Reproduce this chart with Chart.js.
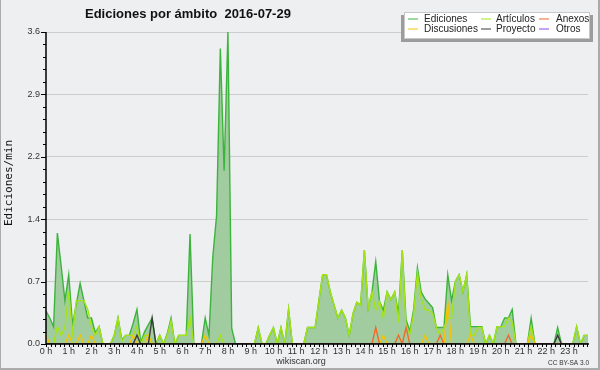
<!DOCTYPE html>
<html><head><meta charset="utf-8">
<script src="https://cdn.jsdelivr.net/npm/chart.js@4/dist/chart.umd.min.js"></script>
<style>html,body{margin:0;padding:0;background:#eeeff0;}canvas{display:block}</style>
</head><body>
<canvas id="c" width="600" height="370"></canvas>
<script>
// one value per 10-minute slot, 00:00 .. 23:50
const slotMinutes = 10;
const ediciones = [
 0.38,0.30,0.20,1.28,0.90,0.50,
 0.80,0.22,0.46,0.70,0.50,0.30,
 0.30,0.13,0.20,0,0,0,
 0.10,0.30,0.05,0.10,0.10,0.24,
 0.40,0.02,0.14,0.22,0.30,0,
 0.10,0,0.12,0.30,0,0.10,
 0.10,0.10,1.27,0,0,0,
 0.30,0.10,1.00,1.48,3.41,2.00,
 3.60,0.18,0,0,0,0,
 0,0,0.19,0,0,0.10,
 0.19,0,0.19,0,0.40,0,
 0,0,0,0.19,0.19,0.19,
 0.50,0.80,0.80,0.60,0.45,0.30,
 0.39,0.30,0.10,0.35,0.48,0.45,
 1.08,0.41,0.60,0.95,0.49,0.39,
 0.60,0.51,0.60,0.35,1.08,0.28,
 0.15,0.40,0.88,0.60,0.52,0.47,
 0.42,0.19,0.19,0.19,0.80,0.50,
 0.72,0.80,0.60,0.80,0.20,0.20,
 0.20,0.20,0,0.10,0,0.20,
 0.20,0.30,0.30,0.40,0,0,
 0,0,0.30,0,0,0,
 0,0,0,0.19,0,0,
 0,0,0.20,0,0.10,0.10];
const articulos = [
 0,0,0,0.20,0.10,0.19,
 0.60,0.12,0.50,0.50,0.50,0.40,
 0.20,0.10,0.20,0,0,0,
 0.10,0.30,0.03,0.10,0.10,0.10,
 0.20,0,0.10,0.10,0,0,
 0.10,0,0.10,0.27,0,0.10,
 0.10,0.10,0.30,0,0,0,
 0,0,0,0,0.10,0,
 0,0,0,0,0,0,
 0,0,0.19,0,0,0.10,
 0.19,0,0.19,0,0.40,0,
 0,0,0,0.19,0.19,0.19,
 0.50,0.80,0.80,0.60,0.45,0.30,
 0.39,0.30,0.10,0.35,0.48,0.45,
 1.08,0.41,0.60,0.39,0.49,0.30,
 0.60,0.51,0.60,0.25,1.08,0.18,
 0.12,0.35,0.82,0.52,0.40,0.39,
 0.35,0.19,0.10,0.19,0.30,0.30,
 0.72,0.80,0.60,0.80,0.10,0.10,
 0.19,0.19,0,0.10,0,0.20,
 0.20,0.20,0.30,0.25,0,0,
 0,0,0.20,0,0,0,
 0,0,0,0,0,0,
 0,0,0.20,0,0.10,0.10];
const anexos = [
 0,0,0,0,0,0, 0,0,0,0,0,0, 0,0,0,0,0,0, 0,0,0,0,0,0,
 0,0,0,0,0,0, 0,0,0,0,0,0, 0,0,0,0,0,0, 0,0,0,0,0,0,
 0,0,0,0,0,0, 0,0,0,0,0,0, 0,0,0,0,0,0, 0,0,0,0,0,0,
 0,0,0,0,0,0, 0,0,0,0,0,0, 0,0,0,0.19,0,0, 0,0,0,0.10,0,0.19,
 0,0,0,0,0,0, 0,0,0.10,0,0,0, 0,0,0,0,0,0, 0,0,0,0,0,0,
 0,0,0.10,0,0,0, 0,0,0,0,0,0, 0,0,0,0,0,0, 0,0,0,0,0,0];
const discusiones = [
 0.10,0,0,0,0,0, 0.10,0,0,0.10,0,0, 0.10,0,0,0,0,0, 0,0,0,0,0,0.10,
 0,0,0,0.10,0,0, 0,0,0,0,0,0, 0,0,0,0,0,0, 0.10,0,0,0,0,0,
 0,0,0,0,0,0, 0,0,0,0,0,0, 0,0,0,0,0,0, 0,0,0,0,0,0,
 0,0,0,0,0,0, 0,0,0,0,0,0, 0,0,0,0,0,0.10, 0,0,0,0,0,0,
 0,0,0,0,0.10,0, 0,0,0,0,0.49,0, 0,0,0,0,0.10,0, 0,0,0,0,0,0,
 0,0,0,0,0,0, 0,0,0.10,0,0,0, 0,0,0,0,0,0, 0,0,0,0,0,0];
const proyecto = [
 0,0,0,0,0,0, 0,0,0,0,0,0, 0,0,0,0,0,0, 0,0,0,0,0,0,
 0.10,0,0,0,0.30,0, 0,0,0,0,0,0, 0,0,0,0,0,0, 0,0,0,0,0,0,
 0,0,0,0,0,0, 0,0,0,0,0,0, 0,0,0,0,0,0, 0,0,0,0,0,0,
 0,0,0,0,0,0, 0,0,0,0,0,0, 0,0,0,0,0,0, 0,0,0,0,0,0,
 0,0,0,0,0,0, 0,0,0,0,0,0, 0,0,0,0,0,0, 0,0,0,0,0,0,
 0,0,0,0,0,0, 0,0,0,0,0,0, 0,0,0,0.10,0,0, 0,0,0,0,0,0];
const otros = [];

const seriesNames = ['Ediciones','Artículos','Anexos','Discusiones','Proyecto','Otros'];
const yTickValues = [0, 0.72, 1.44, 2.16, 2.88, 3.6];
const yTickLabels = ['0.0','0.7','1.4','2.2','2.9','3.6'];
const xTickHours = [0,1,2,3,4,5,6,7,8,9,10,11,12,13,14,15,16,17,18,19,20,21,22,23];
const xTickLabels = ['0 h','1 h','2 h','3 h','4 h','5 h','6 h','7 h','8 h','9 h','10 h','11 h','12 h','13 h','14 h','15 h','16 h','17 h','18 h','19 h','20 h','21 h','22 h','23 h'];
const titleText = 'Ediciones por ámbito  2016-07-29';
const yTitle = 'Ediciones/min';

const times = ediciones.map((_, i) => i * slotMinutes / 60);
const pts = arr => arr.map((v, i) => ({x: times[i], y: v}));

const colors = {
  'Ediciones': '#3cb43c', 'Artículos': '#a4e414', 'Anexos': '#f06a28',
  'Discusiones': '#f5c400', 'Proyecto': '#3a3a3a', 'Otros': '#8844ee'
};
const seriesData = [ediciones, articulos, anexos, discusiones, proyecto, otros];
const drawOrder = [10, 8, 4, 5, 3, 2];

const datasets = seriesNames.map((n, i) => ({
  label: n,
  data: pts(seriesData[i]),
  borderColor: colors[n],
  borderWidth: 1.4,
  backgroundColor: i === 0 ? '#a0cca0' : 'transparent',
  fill: i === 0 ? 'origin' : false,
  pointRadius: 0,
  tension: 0,
  order: drawOrder[i]
}));

const decor = {
  id: 'decor',
  beforeDraw(chart) {
    const c = chart.ctx;
    c.save(); c.fillStyle = '#eeeff0'; c.fillRect(0, 0, chart.width, chart.height); c.restore();
  },
  afterDatasetsDraw(chart) {
    const c = chart.ctx, a = chart.chartArea, xs = chart.scales.x, ys = chart.scales.y;
    c.save();
    c.strokeStyle = '#000'; c.lineWidth = 1;
    // y ticks: major + 4 minor between
    const yMax = yTickValues[yTickValues.length - 1];
    const yMinor = yTickValues[1] / 5;
    for (let i = 0; i * yMinor <= yMax + 1e-9; i++) {
      const py = Math.round(ys.getPixelForValue(i * yMinor)) + 0.5;
      const len = (i % 5 === 0) ? 5 : 3;
      c.beginPath(); c.moveTo(a.left - len, py); c.lineTo(a.left, py); c.stroke();
    }
    // x ticks every 12 min
    for (let h = 0; h <= xs.max + 1e-9; h += 0.2) {
      const px = Math.round(xs.getPixelForValue(h)) + 0.5;
      c.beginPath(); c.moveTo(px, a.bottom); c.lineTo(px, a.bottom + 3); c.stroke();
    }
    // axis lines
    c.lineWidth = 1.5;
    c.beginPath(); c.moveTo(a.left, a.top); c.lineTo(a.left, a.bottom); c.lineTo(a.right + 1, a.bottom); c.stroke();
    c.restore();
  },
  afterDraw(chart) {
    const c = chart.ctx, a = chart.chartArea;
    c.save();
    // title
    c.fillStyle = '#111'; c.font = 'bold 13px "Liberation Sans", Arial, sans-serif';
    c.textBaseline = 'middle'; c.textAlign = 'left';
    c.fillText(titleText, 85, 14.5);
    // y title
    c.save(); c.translate(9, 183); c.rotate(-Math.PI / 2);
    c.font = '11px "DejaVu Sans Mono", monospace'; c.textAlign = 'center'; c.fillStyle = '#111';
    c.fillText(yTitle, 0, 0); c.restore();
    // footer texts
    c.font = '9px "Liberation Sans", Arial, sans-serif'; c.fillStyle = '#333'; c.textAlign = 'center';
    c.fillText('wikiscan.org', 301, 362);
    c.font = '6.5px "Liberation Sans", Arial, sans-serif'; c.textAlign = 'right';
    c.fillText('CC BY-SA 3.0', 589, 363);
    // legend
    c.fillStyle = '#9c9c9c'; c.fillRect(401, 15, 192, 27);
    c.fillStyle = '#ffffff'; c.fillRect(404, 12, 186, 27);
    c.strokeStyle = '#c8c8c8'; c.lineWidth = 1; c.strokeRect(404.5, 12.5, 185, 26);
    const cols = [[408, 424], [481, 496], [539, 556]];
    const rows = [19, 29];
    c.font = '10px "Liberation Sans", Arial, sans-serif'; c.textAlign = 'left'; c.textBaseline = 'middle';
    chart.data.datasets.forEach((ds, i) => {
      const col = cols[i % 3], ry = rows[Math.floor(i / 3)];
      c.strokeStyle = ds.borderColor; c.lineWidth = 1;
      c.beginPath(); c.moveTo(col[0], ry); c.lineTo(col[0] + 10, ry); c.stroke();
      c.fillStyle = '#222'; c.fillText(ds.label, col[1], ry);
    });
    // outer frame
    c.fillStyle = '#ababab';
    c.fillRect(0, 0, 1, chart.height);
    c.fillRect(chart.width - 2, 0, 2, chart.height);
    c.fillRect(0, chart.height - 2, chart.width, 2);
    c.restore();
  }
};

new Chart(document.getElementById('c'), {
  type: 'line',
  data: { datasets },
  options: {
    responsive: false, animation: false, devicePixelRatio: 1,
    layout: { padding: { top: 32, right: 12, left: 0, bottom: 0 } },
    plugins: { legend: { display: false }, tooltip: { enabled: false }, title: { display: false } },
    scales: {
      x: {
        type: 'linear', min: 0, max: times[times.length - 1],
        afterBuildTicks: s => { s.ticks = xTickHours.map(v => ({ value: v })); },
        ticks: { callback: (v, i) => xTickLabels[i], autoSkip: false, maxRotation: 0,
                 font: { size: 9, family: '"Liberation Sans", Arial, sans-serif' }, color: '#333', padding: 2 },
        grid: { display: false, drawTicks: false },
        border: { display: false },
        afterFit: s => { s.height = 26; }
      },
      y: {
        min: 0, max: 3.6,
        afterBuildTicks: s => { s.ticks = yTickValues.map(v => ({ value: v })); },
        ticks: { callback: (v, i) => yTickLabels[i], autoSkip: false,
                 font: { size: 9, family: '"Liberation Sans", Arial, sans-serif' }, color: '#333', padding: 6 },
        grid: { color: '#cdcdcd', drawTicks: false, lineWidth: 1 },
        border: { display: false },
        afterFit: s => { s.width = 46; }
      }
    }
  },
  plugins: [decor]
});
</script>
</body></html>
